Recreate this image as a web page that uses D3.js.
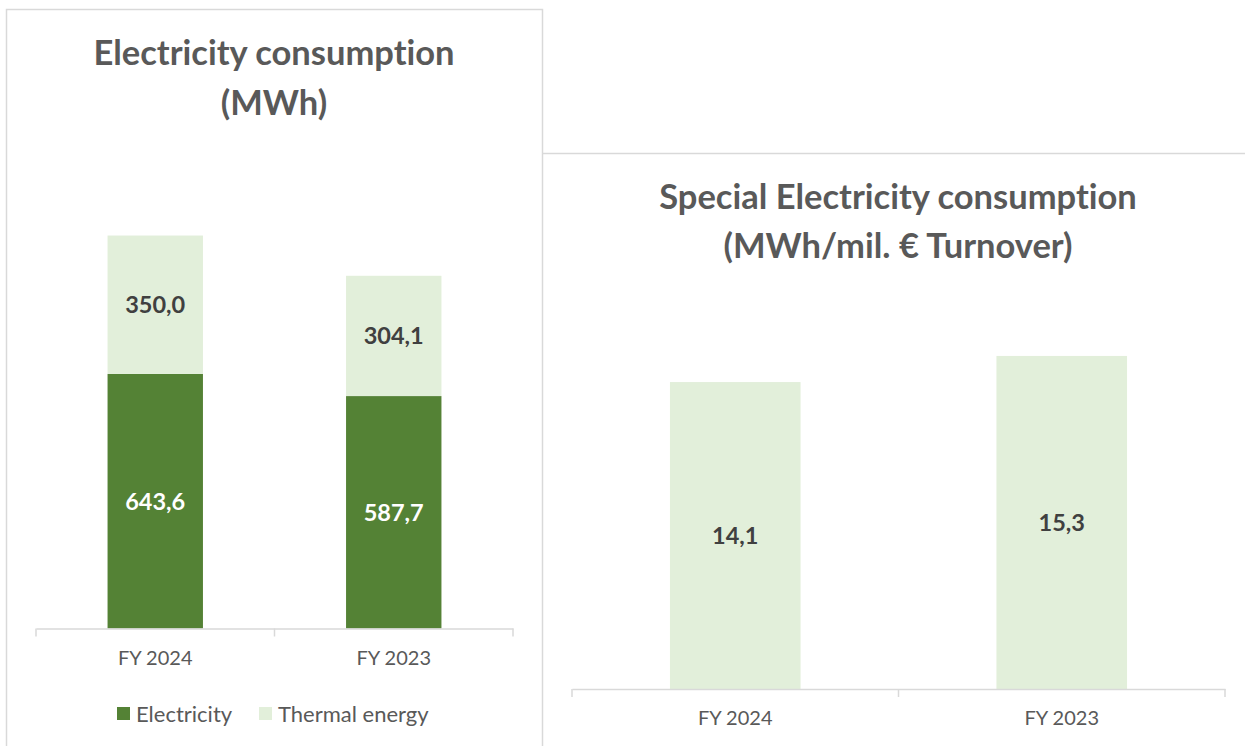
<!DOCTYPE html>
<html>
<head>
<meta charset="utf-8">
<script src="https://cdn.jsdelivr.net/npm/d3@7"></script>
<style>
  body { margin: 0; background: #fff; }
  svg { display: block; font-family: Lato, "Open Sans", sans-serif; font-variant-ligatures: none; }
</style>
</head>
<body>
<div id="chart"></div>
<script>
const W = 1245, H = 746;

// left chart data
const years = ["FY 2024", "FY 2023"];
const electricity = [643.6, 587.7];
const thermal = [350.0, 304.1];
const seriesNames = ["Electricity", "Thermal energy"];

// right chart data
const specific = [14.1, 15.3];

const dark = "#548235", light = "#e2efda";
const textGrey = "#595959", labelDark = "#404040", borderGrey = "#d9d9d9";

const fmt = v => d3.format(".1f")(v).replace(".", ",");

const svg = d3.select("#chart").append("svg")
  .attr("width", W).attr("height", H);

// panel borders
svg.append("path")
  .attr("d", "M6.5,760 V9.5 H542.5 V760")
  .attr("fill", "none").attr("stroke", borderGrey).attr("stroke-width", 1.5);
svg.append("path")
  .attr("d", "M542.5,153.5 H1250")
  .attr("fill", "none").attr("stroke", borderGrey).attr("stroke-width", 1.5);

function title(lines, cx, y0, dy, size) {
  const t = svg.append("text")
    .attr("text-anchor", "middle")
    .attr("fill", textGrey)
    .style("font-size", size + "px").style("font-weight", "bold");
  lines.forEach((l, i) => {
    t.append("tspan").attr("x", cx).attr("y", y0 + i * dy).text(l);
  });
}

function axis(x, y) {
  const g = svg.append("g")
    .attr("transform", `translate(0,${y})`)
    .call(d3.axisBottom(x).tickSize(0).tickPadding(22));
  g.select(".domain").attr("stroke", borderGrey).attr("stroke-width", 1.5);
  g.selectAll("text").attr("fill", textGrey)
    .style("font-size", "20px").style("font-family", "Lato, sans-serif");
  // category separators
  const r = x.range();
  const step = (r[1] - r[0]) / x.domain().length;
  d3.range(x.domain().length + 1).forEach(i => {
    g.append("line")
      .attr("x1", r[0] + i * step).attr("x2", r[0] + i * step)
      .attr("y1", 0).attr("y2", 8)
      .attr("stroke", borderGrey).attr("stroke-width", 1.5);
  });
}

// ---- left chart: stacked bars
{
  const x = d3.scaleBand().domain(years).range([36, 513]).paddingInner(0.6).paddingOuter(0.3);
  const y = d3.scaleLinear().domain([0, 1000]).range([628.5, 233]);

  const rows = years.map((yr, i) => ({ year: yr, Electricity: electricity[i], "Thermal energy": thermal[i] }));
  const stack = d3.stack().keys(seriesNames)(rows);
  const colors = d3.scaleOrdinal().domain(seriesNames).range([dark, light]);

  const layers = svg.append("g").selectAll("g").data(stack).join("g")
    .attr("fill", d => colors(d.key));
  layers.selectAll("rect").data(d => d).join("rect")
    .attr("x", d => x(d.data.year))
    .attr("width", x.bandwidth())
    .attr("y", d => y(d[1]))
    .attr("height", d => y(d[0]) - y(d[1]));

  stack.forEach(layer => {
    svg.append("g").selectAll("text").data(layer).join("text")
      .attr("x", d => x(d.data.year) + x.bandwidth() / 2)
      .attr("y", d => (y(d[0]) + y(d[1])) / 2)
      .attr("dy", "0.36em")
      .attr("text-anchor", "middle")
      .attr("fill", layer.key === "Electricity" ? "#ffffff" : labelDark)
      .style("font-size", "23.5px").style("font-weight", "bold")
      .text(d => fmt(d[1] - d[0]));
  });

  axis(x, 628.5);

  title(["Electricity consumption", "(MWh)"], 274, 65, 50, 34.5);

  // legend
  const legend = svg.append("g").attr("transform", "translate(117,714)");
  const items = [{ name: "Electricity", dx: 0 }, { name: "Thermal energy", dx: 142 }];
  items.forEach(it => {
    const gi = legend.append("g").attr("transform", `translate(${it.dx},0)`);
    gi.append("rect").attr("x", 0).attr("y", -7).attr("width", 13).attr("height", 13)
      .attr("fill", colors(it.name));
    gi.append("text").attr("x", 19).attr("y", 0).attr("dy", "0.35em")
      .attr("fill", textGrey).style("font-size", "22px").text(it.name);
  });
}

// ---- right chart: single bars
{
  const x = d3.scaleBand().domain(years).range([572, 1225]).paddingInner(0.6).paddingOuter(0.3);
  const y = d3.scaleLinear().domain([0, 16]).range([689, 340.7]);

  const data = years.map((yr, i) => ({ year: yr, v: specific[i] }));
  svg.append("g").selectAll("rect").data(data).join("rect")
    .attr("x", d => x(d.year))
    .attr("width", x.bandwidth())
    .attr("y", d => y(d.v))
    .attr("height", d => y(0) - y(d.v))
    .attr("fill", light);

  svg.append("g").selectAll("text").data(data).join("text")
    .attr("x", d => x(d.year) + x.bandwidth() / 2)
    .attr("y", d => (y(0) + y(d.v)) / 2)
    .attr("dy", "0.36em")
    .attr("text-anchor", "middle")
    .attr("fill", labelDark)
    .style("font-size", "23.5px").style("font-weight", "bold")
    .text(d => fmt(d.v));

  axis(x, 689);

  title(["Special Electricity consumption", "(MWh/mil. \u20AC Turnover)"], 898, 209, 49, 34.5);
}
</script>
</body>
</html>
